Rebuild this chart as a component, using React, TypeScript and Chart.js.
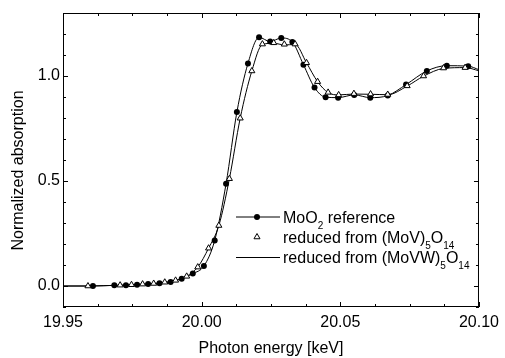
import React, { useEffect, useRef } from "react";
import { Chart, registerables } from "chart.js";

Chart.register(...registerables);

// ---------- data ----------
const moo2X = [19.95, 19.9608, 19.9685, 19.9727, 19.9767, 19.9807, 19.9848, 19.9888, 19.9928, 19.9968, 20.0008, 20.0047, 20.0088, 20.0127, 20.0167, 20.0207, 20.0247, 20.0287, 20.0327, 20.0367, 20.0407, 20.0447, 20.0492, 20.055, 20.0608, 20.0671, 20.0737, 20.0812, 20.0884, 20.0961, 20.1];
const moo2Y = [0.0, 0.0, 0.003, 0.003, 0.006, 0.009, 0.013, 0.019, 0.035, 0.059, 0.095, 0.217, 0.487, 0.828, 1.06, 1.184, 1.164, 1.181, 1.162, 1.054, 0.945, 0.899, 0.897, 0.91, 0.897, 0.907, 0.959, 1.024, 1.049, 1.047, 1.03];

const triX = [19.959, 19.9706, 19.9747, 19.9787, 19.9827, 19.9867, 19.9906, 19.9946, 19.9986, 20.0025, 20.0062, 20.01, 20.0139, 20.0181, 20.0219, 20.026, 20.0298, 20.0337, 20.0378, 20.0418, 20.0456, 20.0494, 20.0549, 20.0609, 20.0671, 20.0741, 20.08, 20.0872, 20.095];
const triY = [0.0, 0.004, 0.006, 0.009, 0.012, 0.018, 0.027, 0.046, 0.09, 0.18, 0.288, 0.511, 0.799, 1.024, 1.152, 1.158, 1.151, 1.152, 1.063, 0.973, 0.922, 0.91, 0.916, 0.914, 0.912, 0.953, 1.0, 1.038, 1.04];

const movwX = [19.95, 19.959, 19.9706, 19.9747, 19.9787, 19.9827, 19.9867, 19.9906, 19.9946, 19.9986, 20.0025, 20.0062, 20.01, 20.0139, 20.0181, 20.0219, 20.026, 20.0298, 20.0337, 20.0378, 20.0418, 20.0456, 20.0494, 20.0549, 20.0609, 20.0671, 20.0741, 20.08, 20.0872, 20.095, 20.1];
const movwY = [0.0, 0.0, 0.004, 0.006, 0.009, 0.012, 0.018, 0.027, 0.046, 0.09, 0.18, 0.288, 0.511, 0.799, 1.024, 1.15, 1.156, 1.148, 1.15, 1.063, 0.973, 0.921, 0.91, 0.914, 0.913, 0.911, 0.952, 0.999, 1.036, 1.04, 1.025];

const xTicks = [19.95, 20.0, 20.05, 20.1];
const yTicks = [0.0, 0.5, 1.0];
const xRange = [19.95, 20.1];
const yRange = [-0.1, 1.3];
const xMinorStep = 0.0125;
const yMinorStep = 0.1;

const xTitle = "Photon energy [keV]";
const yTitle = "Normalized absorption";

type Seg = { t: string; sub?: boolean };
const legendMoO2: Seg[] = [{ t: "MoO" }, { t: "2", sub: true }, { t: " reference" }];
const legendMoV: Seg[] = [{ t: "reduced from (MoV)" }, { t: "5", sub: true }, { t: "O" }, { t: "14", sub: true }];
const legendMoVW: Seg[] = [{ t: "reduced from (MoVW)" }, { t: "5", sub: true }, { t: "O" }, { t: "14", sub: true }];

const FONT = "'Liberation Sans', Arial, Helvetica, sans-serif";

const decorPlugin = {
  id: "decor",
  afterDraw(chart: any) {
    const ctx: CanvasRenderingContext2D = chart.ctx;
    const { left, right, top, bottom } = chart.chartArea;
    const xs = chart.scales.x;
    const ys = chart.scales.y;
    ctx.save();
    ctx.strokeStyle = "#000";
    ctx.lineWidth = 1;
    // frame
    ctx.strokeRect(left + 0.5, top + 0.5, right - left - 1, bottom - top - 1);
    // ticks
    const major = 5;
    const minor = 3;
    ctx.beginPath();
    const nx = Math.round((xRange[1] - xRange[0]) / xMinorStep);
    for (let i = 0; i <= nx; i++) {
      const v = xRange[0] + i * xMinorStep;
      const isMajor = xTicks.some((t) => Math.abs(t - v) < 1e-6);
      const len = isMajor ? major : minor;
      const px = Math.round(xs.getPixelForValue(v)) + 0.5;
      ctx.moveTo(px, bottom);
      ctx.lineTo(px, bottom - len);
      ctx.moveTo(px, top);
      ctx.lineTo(px, top + len);
    }
    const ny = Math.round((yRange[1] - yRange[0]) / yMinorStep);
    for (let i = 0; i <= ny; i++) {
      const v = yRange[0] + i * yMinorStep;
      const isMajor = yTicks.some((t) => Math.abs(t - v) < 1e-6);
      const len = isMajor ? major : minor;
      const py = Math.round(ys.getPixelForValue(v)) + 0.5;
      ctx.moveTo(left, py);
      ctx.lineTo(left + len, py);
      ctx.moveTo(right, py);
      ctx.lineTo(right - len, py);
    }
    ctx.stroke();

    // y title
    ctx.fillStyle = "#000";
    ctx.font = `16px ${FONT}`;
    ctx.save();
    ctx.translate(22.5, 170.5);
    ctx.rotate(-Math.PI / 2);
    ctx.textAlign = "center";
    ctx.textBaseline = "alphabetic";
    ctx.fillText(yTitle, 0, 0);
    ctx.restore();

    // legend
    const drawSegs = (segs: Seg[], x: number, y: number) => {
      let cx = x;
      ctx.textAlign = "left";
      ctx.textBaseline = "alphabetic";
      for (const s of segs) {
        ctx.font = s.sub ? `10px ${FONT}` : `16px ${FONT}`;
        ctx.fillText(s.t, cx, s.sub ? y + 6 : y);
        cx += ctx.measureText(s.t).width;
      }
    };
    const symL = 236;
    const symR = 280;
    const symC = 257;
    const textX = 283;
    // row 1
    ctx.beginPath();
    ctx.moveTo(symL, 217);
    ctx.lineTo(symR, 217);
    ctx.stroke();
    ctx.beginPath();
    ctx.arc(symC, 217, 3, 0, Math.PI * 2);
    ctx.fill();
    drawSegs(legendMoO2, textX, 223);
    // row 2
    ctx.beginPath();
    const r = 3.5;
    const ty = 237;
    ctx.moveTo(symC, ty - r);
    ctx.lineTo(symC + Math.sin((2 * Math.PI) / 3) * r, ty - Math.cos((2 * Math.PI) / 3) * r);
    ctx.lineTo(symC + Math.sin((4 * Math.PI) / 3) * r, ty - Math.cos((4 * Math.PI) / 3) * r);
    ctx.closePath();
    ctx.fillStyle = "#fff";
    ctx.fill();
    ctx.stroke();
    ctx.fillStyle = "#000";
    drawSegs(legendMoV, textX, 243);
    // row 3
    ctx.beginPath();
    ctx.moveTo(symL, 257.5);
    ctx.lineTo(symR, 257.5);
    ctx.stroke();
    drawSegs(legendMoVW, textX, 263);
    ctx.restore();
  },
};

export default function App() {
  const ref = useRef<HTMLCanvasElement | null>(null);
  useEffect(() => {
    if (!ref.current) return;
    Chart.defaults.font.family = FONT;
    const lastMo = moo2X.length - 1;
    const chart = new Chart(ref.current, {
      type: "line",
      data: {
        datasets: [
          {
            label: "MoO2 reference",
            data: moo2X.map((x, i) => ({ x, y: moo2Y[i] })),
            borderColor: "#000",
            borderWidth: 1,
            backgroundColor: "#000",
            pointBackgroundColor: "#000",
            pointBorderColor: "#000",
            pointBorderWidth: 0,
            pointRadius: (c: any) => (c.dataIndex === 0 || c.dataIndex === lastMo ? 0 : 3),
            cubicInterpolationMode: "monotone",
            order: 2,
            clip: 0,
          } as any,
          {
            label: "reduced from (MoV)5O14",
            data: triX.map((x, i) => ({ x, y: triY[i] })),
            showLine: false,
            pointStyle: "triangle",
            pointRadius: 3.5,
            pointBackgroundColor: "#fff",
            pointBorderColor: "#000",
            pointBorderWidth: 1,
            order: 1,
            clip: 0,
          } as any,
          {
            label: "reduced from (MoVW)5O14",
            data: movwX.map((x, i) => ({ x, y: movwY[i] })),
            borderColor: "#000",
            borderWidth: 1,
            pointRadius: 0,
            cubicInterpolationMode: "monotone",
            order: 3,
            clip: 0,
          } as any,
        ],
      },
      options: {
        animation: false,
        responsive: false,
        devicePixelRatio: 1,
        layout: { padding: { left: 0, top: 13, right: 23, bottom: 0 } },
        plugins: { legend: { display: false }, tooltip: { enabled: false } },
        scales: {
          x: {
            type: "linear",
            min: xRange[0],
            max: xRange[1],
            afterBuildTicks: (s: any) => {
              s.ticks = xTicks.map((v) => ({ value: v }));
            },
            afterFit: (s: any) => {
              s.height = 51;
            },
            ticks: {
              callback: (v: any) => Number(v).toFixed(2),
              font: { size: 16 },
              color: "#000",
              padding: 6,
              maxRotation: 0,
              autoSkip: false,
            },
            grid: { display: false, drawTicks: false },
            border: { display: false },
            title: { display: true, text: xTitle, font: { size: 16 }, color: "#000", padding: 0 },
          },
          y: {
            type: "linear",
            min: yRange[0],
            max: yRange[1],
            afterBuildTicks: (s: any) => {
              s.ticks = yTicks.map((v) => ({ value: v }));
            },
            afterFit: (s: any) => {
              s.width = 63;
            },
            ticks: {
              callback: (v: any) => Number(v).toFixed(1),
              font: { size: 16 },
              color: "#000",
              padding: 3,
              autoSkip: false,
            },
            grid: { display: false, drawTicks: false },
            border: { display: false },
          },
        },
      } as any,
      plugins: [decorPlugin],
    });
    return () => chart.destroy();
  }, []);
  return (
    <div style={{ position: "absolute", left: 0, top: 0, width: 505, height: 358 }}>
      <canvas ref={ref} width={505} height={358} style={{ display: "block" }} />
    </div>
  );
}
